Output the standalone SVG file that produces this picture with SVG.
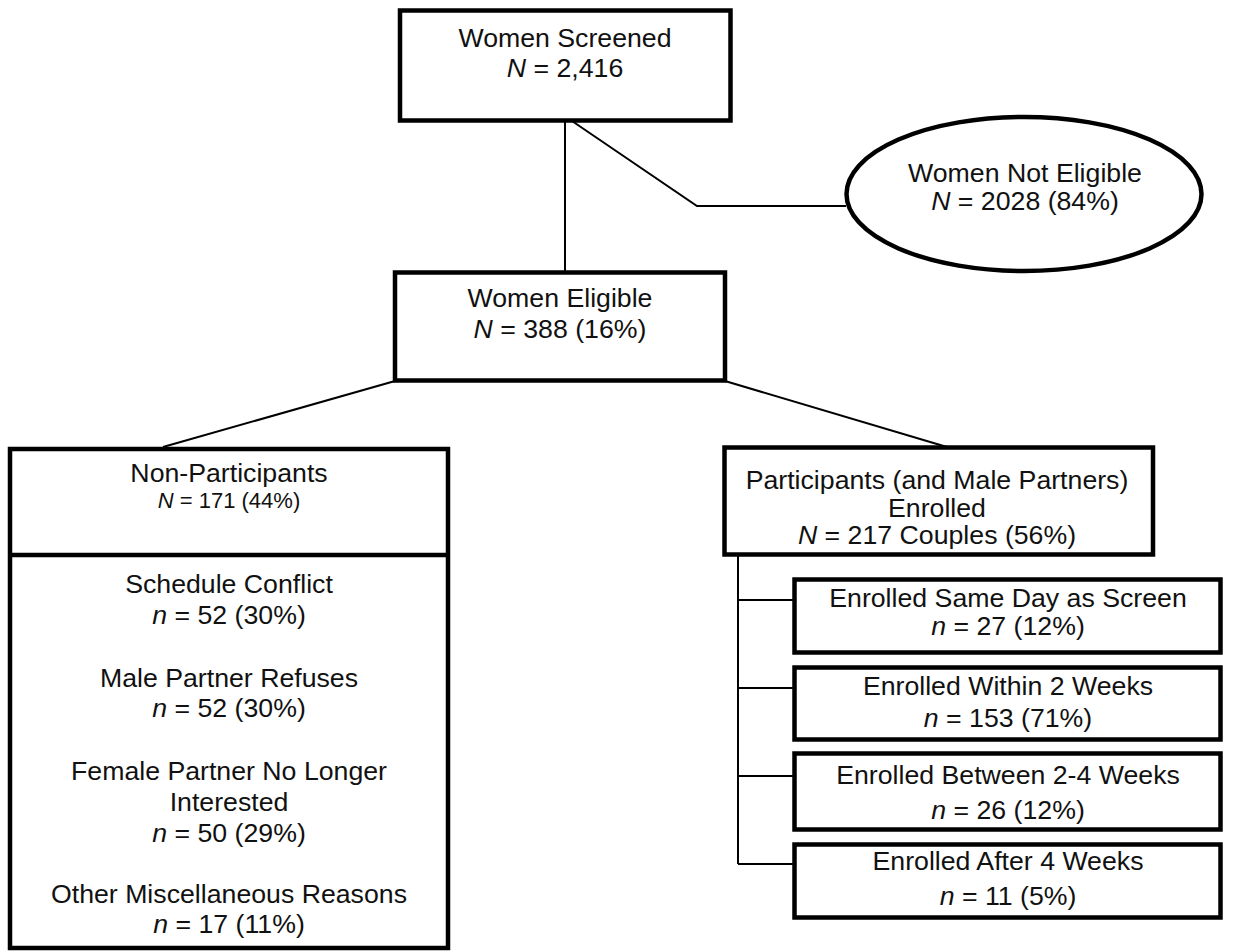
<svg xmlns="http://www.w3.org/2000/svg" width="1235" height="951" viewBox="0 0 1235 951">
<style>
.box{fill:#fff;stroke:#000;stroke-width:4.5}
.ln{fill:none;stroke:#000;stroke-width:2}
text{font-family:"Liberation Sans",Arial,sans-serif;font-size:26.7px;fill:#111;text-anchor:middle}
.sm{font-size:22px}
.i{font-style:italic}
</style>
<rect width="1235" height="951" fill="#fff"/>
<g id="connectors">
<polyline class="ln" points="565,121 565,272"/>
<polyline class="ln" points="572,121 697,206 846,206"/>
<polyline class="ln" points="395,381 163,447"/>
<polyline class="ln" points="725,381 947,447"/>
<polyline class="ln" points="738,555 738,864"/>
<line class="ln" x1="738" y1="600" x2="795" y2="600"/>
<line class="ln" x1="738" y1="688" x2="795" y2="688"/>
<line class="ln" x1="738" y1="776" x2="795" y2="776"/>
<line class="ln" x1="738" y1="864" x2="795" y2="864"/>
</g>
<g id="screened">
<rect class="box" x="400" y="10.5" width="330.5" height="110"/>
<text x="565" y="47">Women Screened</text>
<text x="565" y="77"><tspan class="i">N</tspan> = 2,416</text>
</g>
<g id="not-eligible">
<ellipse class="box" cx="1024" cy="194" rx="177.5" ry="77"/>
<text x="1025" y="182">Women Not Eligible</text>
<text x="1025" y="210"><tspan class="i">N</tspan> = 2028 (84%)</text>
</g>
<g id="eligible">
<rect class="box" x="395" y="272.5" width="330" height="108"/>
<text x="560" y="307">Women Eligible</text>
<text x="560" y="338"><tspan class="i">N</tspan> = 388 (16%)</text>
</g>
<g id="non-participants">
<rect class="box" x="10" y="449" width="438" height="499"/>
<line x1="10" y1="555" x2="448" y2="555" stroke="#000" stroke-width="4.5"/>
<text x="229" y="482">Non-Participants</text>
<text x="229" y="508" class="sm"><tspan class="i">N</tspan> = 171 (44%)</text>
<text x="229" y="593">Schedule Conflict</text>
<text x="229" y="624"><tspan class="i">n</tspan> = 52 (30%)</text>
<text x="229" y="687">Male Partner Refuses</text>
<text x="229" y="717"><tspan class="i">n</tspan> = 52 (30%)</text>
<text x="229" y="780">Female Partner No Longer</text>
<text x="229" y="811">Interested</text>
<text x="229" y="842"><tspan class="i">n</tspan> = 50 (29%)</text>
<text x="229" y="903">Other Miscellaneous Reasons</text>
<text x="229" y="933"><tspan class="i">n</tspan> = 17 (11%)</text>
</g>
<g id="participants">
<rect class="box" x="724.5" y="447.5" width="428.5" height="107"/>
<text x="937" y="489">Participants (and Male Partners)</text>
<text x="937" y="517">Enrolled</text>
<text x="937" y="544"><tspan class="i">N</tspan> = 217 Couples (56%)</text>
</g>
<g id="same-day">
<rect class="box" x="794.5" y="579.5" width="426" height="73"/>
<text x="1008" y="607">Enrolled Same Day as Screen</text>
<text x="1008" y="635"><tspan class="i">n</tspan> = 27 (12%)</text>
</g>
<g id="within-2">
<rect class="box" x="794.5" y="667.5" width="426" height="72"/>
<text x="1008" y="695">Enrolled Within 2 Weeks</text>
<text x="1008" y="727"><tspan class="i">n</tspan> = 153 (71%)</text>
</g>
<g id="between-2-4">
<rect class="box" x="794.5" y="753.5" width="426" height="76"/>
<text x="1008" y="784">Enrolled Between 2-4 Weeks</text>
<text x="1008" y="819"><tspan class="i">n</tspan> = 26 (12%)</text>
</g>
<g id="after-4">
<rect class="box" x="794.5" y="844.5" width="426" height="73"/>
<text x="1008" y="870">Enrolled After 4 Weeks</text>
<text x="1008" y="905"><tspan class="i">n</tspan> = 11 (5%)</text>
</g>
</svg>
